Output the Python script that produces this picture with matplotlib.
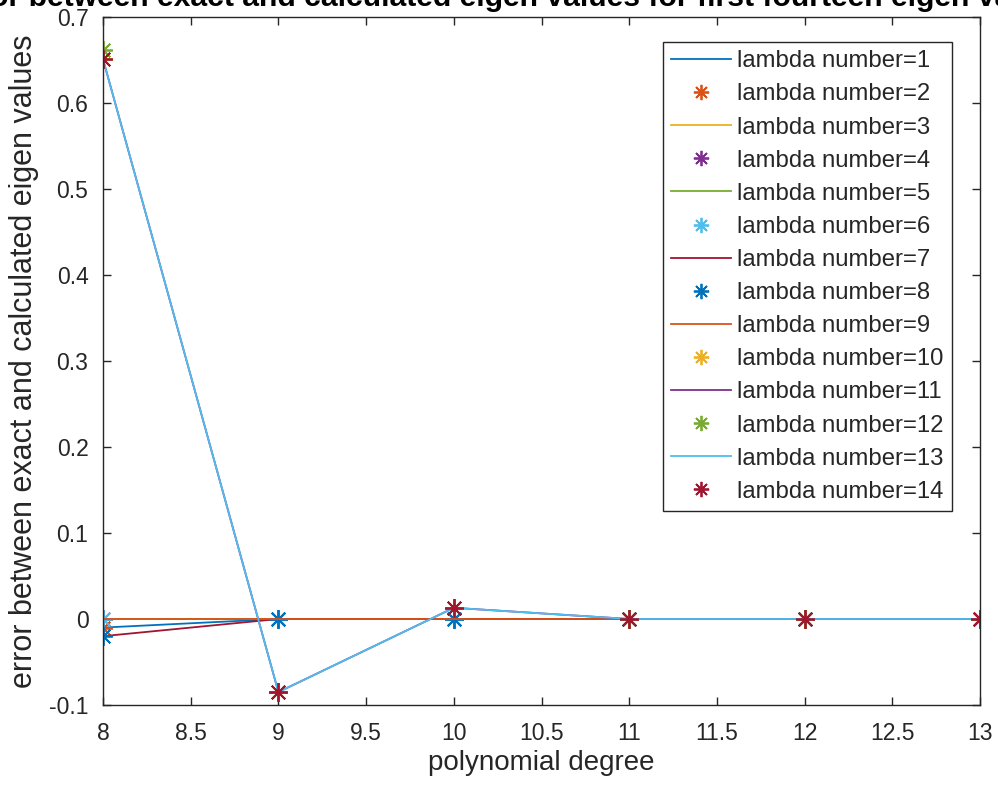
import matplotlib
matplotlib.use('Agg')
import matplotlib.pyplot as plt
import numpy as np

# 多项式阶数
degree = [8, 9, 10, 11, 12, 13]

# 每个特征值的误差 (奇数: 线, 偶数: 星号)
err1 = [-0.010, 0, 0, 0, 0, 0]
err2 = [-0.010, 0, 0, 0, 0, 0]
err3 = [0, 0, 0, 0, 0, 0]
err4 = [0, 0, 0, 0, 0, 0]
err5 = [0, 0, 0, 0, 0, 0]
err6 = [0, 0, 0, 0, 0, 0]
err7 = [-0.020, 0, 0, 0, 0, 0]
err8 = [-0.020, 0, 0, 0, 0, 0]
err9 = [0, 0, 0, 0, 0, 0]
err10 = [0.651, -0.085, 0.013, 0, 0, 0]
err11 = [0.651, -0.085, 0.013, 0, 0, 0]
err12 = [0.662, -0.085, 0.013, 0, 0, 0]
err13 = [0.651, -0.085, 0.013, 0, 0, 0]
err14 = [0.651, -0.085, 0.013, 0, 0, 0]

all_err = [err1, err2, err3, err4, err5, err6, err7,
           err8, err9, err10, err11, err12, err13, err14]
labels = ['lambda number=%d' % (i + 1) for i in range(14)]

# MATLAB 默认颜色顺序
colors = ['#0072BD', '#D95319', '#EDB120', '#7E2F8E',
          '#77AC30', '#4DBEEE', '#A2142F']

axis_color = '#262626'
font = ['Liberation Sans', 'DejaVu Sans']

fig = plt.figure(figsize=(9.98, 7.93), dpi=100)
ax = fig.add_axes([0.1032, 0.111, 0.8788, 0.8676])

for i, y in enumerate(all_err):
    c = colors[i % 7]
    if i % 2 == 0:
        ax.plot(degree, y, '-', color=c, linewidth=1.3, label=labels[i])
    else:
        ax.plot(degree, y, linestyle='none', marker=(8, 2, 0), markersize=13.5,
                markeredgewidth=1.3, color=c, label=labels[i])

ax.set_xlim(8, 13)
ax.set_ylim(-0.1, 0.7)
ax.set_xticks(np.arange(8, 13.01, 0.5))
ax.set_xticklabels(['8', '8.5', '9', '9.5', '10', '10.5', '11', '11.5', '12', '12.5', '13'])
ax.set_yticks(np.arange(-0.1, 0.71, 0.1))
ax.set_yticklabels(['-0.1', '0', '0.1', '0.2', '0.3', '0.4', '0.5', '0.6', '0.7'])

ax.tick_params(direction='in', length=6, width=1, colors=axis_color,
               top=True, right=True, labelsize=16.5)
ax.tick_params(axis='x', pad=12)
ax.tick_params(axis='y', pad=10.5)
for label in ax.get_xticklabels() + ax.get_yticklabels():
    label.set_fontfamily(font)
for sp in ax.spines.values():
    sp.set_color(axis_color)
    sp.set_linewidth(1)

ax.set_xlabel('polynomial degree', fontsize=20, color=axis_color,
              fontfamily=font, labelpad=4)
ax.set_ylabel('error between exact and calculated eigen values', fontsize=22,
              color=axis_color, fontfamily=font, labelpad=7)

# 标题被图片上边缘裁掉一部分
fig.text(511 / 998, 1 - 6 / 793,
         'error between exact and calculated eigen values for first fourteen eigen values',
         ha='center', va='baseline', fontsize=21.7, fontweight='bold',
         fontfamily='Liberation Sans', color='black')

leg = ax.legend(loc='upper right', bbox_to_anchor=(952 / 998, 1 - 42 / 793),
                bbox_transform=fig.transFigure,
                prop={'family': 'Liberation Sans', 'size': 17.2},
                labelspacing=0.465, handlelength=2.5, handletextpad=0.25,
                borderpad=0.35, borderaxespad=0, fancybox=False,
                framealpha=1, edgecolor=axis_color)
leg.get_frame().set_linewidth(1)
for t in leg.get_texts():
    t.set_color(axis_color)
for h in leg.legend_handles:
    h.set_markersize(11)

plt.savefig('out.png', dpi=100)
